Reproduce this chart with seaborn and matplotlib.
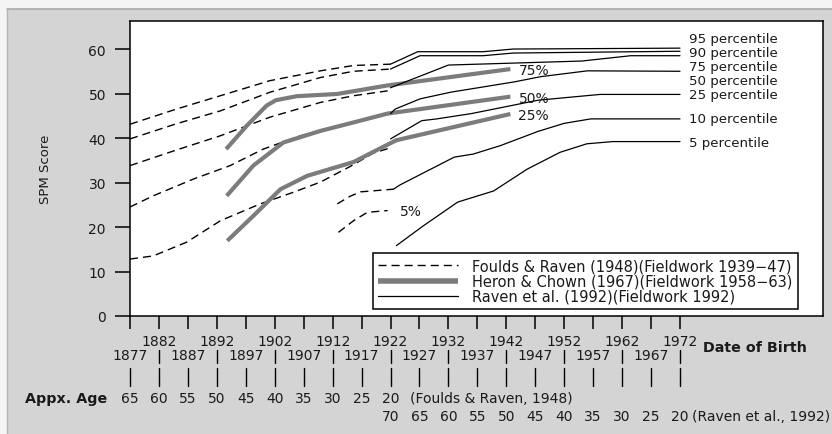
import matplotlib
matplotlib.use("Agg")
import matplotlib.pyplot as plt
from matplotlib.lines import Line2D
from matplotlib.patches import Rectangle
from matplotlib.transforms import blended_transform_factory
import pandas as pd
import seaborn as sns

# ---------------- data ----------------
# Foulds & Raven (1948), fieldwork 1939-47 (dashed)
fr_95_year = [1877, 1885, 1892.6, 1901.2, 1909.9, 1915.6, 1922]
fr_95 = [43.1, 46.5, 49.5, 52.9, 55.1, 56.3, 56.6]
fr_90_year = [1877, 1885, 1892.6, 1901.2, 1909.9, 1915.6, 1922]
fr_90 = [39.8, 43.2, 46.1, 50.3, 53.6, 55.0, 55.5]
fr_75_year = [1877, 1885, 1892.6, 1901.2, 1909.9, 1915.6, 1921.5]
fr_75 = [33.8, 37.3, 40.5, 44.7, 48.0, 49.5, 50.6]
fr_50_year = [1877, 1881, 1888, 1894.3, 1900, 1906.4, 1912, 1917, 1922]
fr_50 = [24.5, 27.0, 30.8, 33.8, 37.5, 40.5, 42.4, 44.0, 45.4]
fr_25_year = [1877, 1881, 1886.8, 1892.6, 1899.5, 1905.2, 1909.9, 1915.6, 1919, 1922]
fr_25 = [12.8, 13.5, 16.6, 21.4, 25.2, 27.8, 30.1, 34.0, 36.6, 37.8]
fr_10_year = [1912.8, 1915, 1916.8, 1922.5]
fr_10 = [25.2, 26.9, 27.9, 28.5]
fr_5_year = [1913, 1915.6, 1918, 1921.5]
fr_5 = [18.8, 21.4, 23.3, 23.7]

# Heron & Chown (1967), fieldwork 1958-63 (thick grey)
hc_75_year = [1893.6, 1897.2, 1900.6, 1902.2, 1905.8, 1912.8, 1921.4, 1942.7]
hc_75 = [37.5, 42.8, 47.3, 48.5, 49.4, 49.9, 51.8, 55.5]
hc_50_year = [1893.7, 1898.3, 1903.5, 1909.9, 1915.6, 1921.5, 1942.7]
hc_50 = [27.0, 33.8, 39.0, 41.6, 43.5, 45.5, 49.3]
hc_25_year = [1893.8, 1898.3, 1903, 1907.6, 1915.6, 1919.5, 1923, 1942.7]
hc_25 = [16.9, 22.5, 28.5, 31.5, 34.6, 37.2, 39.5, 45.4]

# Raven et al. (1992), fieldwork 1992 (thin solid)
rv_95_year = [1922, 1926.7, 1938, 1943.2, 1972]
rv_95 = [56.6, 59.4, 59.4, 60.0, 60.2]
rv_90_year = [1922, 1927.1, 1938, 1943.2, 1972]
rv_90 = [55.5, 58.5, 58.5, 59.1, 59.5]
rv_75_year = [1922, 1932, 1955, 1963.5, 1972]
rv_75 = [51.3, 56.4, 57.3, 58.5, 58.5]
rv_50_year = [1922, 1922.8, 1927.1, 1932.4, 1943.3, 1948, 1956, 1972]
rv_50 = [45.5, 46.5, 48.8, 50.3, 52.6, 53.8, 55.1, 55.0]
rv_25_year = [1922, 1927.4, 1930, 1936, 1947.5, 1958.2, 1972]
rv_25 = [39.8, 43.9, 44.3, 45.5, 48.5, 49.8, 49.8]
rv_10_year = [1922.5, 1923.7, 1933, 1936.3, 1941, 1947.5, 1952, 1956.6, 1972]
rv_10 = [28.5, 29.5, 35.7, 36.4, 38.3, 41.5, 43.3, 44.3, 44.3]
rv_5_year = [1923, 1927.7, 1933.6, 1939.8, 1945.6, 1951.3, 1955.9, 1960.4, 1972]
rv_5 = [15.8, 20.3, 25.6, 28.1, 33.0, 36.8, 38.7, 39.2, 39.2]

percentiles = ["95", "90", "75", "50", "25", "10", "5"]
heron_percentiles = ["75%", "50%", "25%"]

birth_years = [1877, 1882, 1887, 1892, 1897, 1902, 1907, 1912, 1917, 1922,
               1927, 1932, 1937, 1942, 1947, 1952, 1957, 1962, 1967, 1972]
foulds_ages = [65, 60, 55, 50, 45, 40, 35, 30, 25, 20]
raven_ages = [70, 65, 60, 55, 50, 45, 40, 35, 30, 25, 20]
score_ticks = [0, 10, 20, 30, 40, 50, 60]

legend_labels = ["Foulds & Raven (1948)(Fieldwork 1939\u221247)",
                 "Heron & Chown (1967)(Fieldwork 1958\u221263)",
                 "Raven et al. (1992)(Fieldwork 1992)"]


def long_frame(pairs, names):
    rows = []
    for (yrs, vals), name in zip(pairs, names):
        for y, v in zip(yrs, vals):
            rows.append({"year": y, "score": v, "pct": name})
    return pd.DataFrame(rows)


foulds = long_frame([(fr_95_year, fr_95), (fr_90_year, fr_90), (fr_75_year, fr_75),
                     (fr_50_year, fr_50), (fr_25_year, fr_25), (fr_10_year, fr_10),
                     (fr_5_year, fr_5)], percentiles)
heron = long_frame([(hc_75_year, hc_75), (hc_50_year, hc_50), (hc_25_year, hc_25)],
                   heron_percentiles)
raven = long_frame([(rv_95_year, rv_95), (rv_90_year, rv_90), (rv_75_year, rv_75),
                    (rv_50_year, rv_50), (rv_25_year, rv_25), (rv_10_year, rv_10),
                    (rv_5_year, rv_5)], percentiles)

# ---------------- style ----------------
sns.set_theme(style="white")
plt.rcParams["font.family"] = ["DejaVu Sans"]
TXT = "#1a1a1a"
PANEL = "#d4d4d4"
HERON_GREY = "#7c7c7c"
DASH = (0, (5.8, 3.6))

W, H = 832, 435
fig = plt.figure(figsize=(W / 100, H / 100), dpi=100)
fig.patch.set_facecolor(PANEL)
# light margin strips around the grey panel
fig.patches.append(Rectangle((0, 1 - 9.5 / H), 1, 9.5 / H, transform=fig.transFigure,
                             facecolor="#f4f4f4", edgecolor="none", zorder=0))
fig.patches.append(Rectangle((0, 0), 7.5 / W, 1, transform=fig.transFigure,
                             facecolor="#f4f4f4", edgecolor="none", zorder=0))
fig.lines.append(Line2D([7.5 / W, 1], [1 - 10 / H, 1 - 10 / H], transform=fig.transFigure,
                        color="#a9a9a9", lw=1.2))
fig.lines.append(Line2D([7.5 / W, 7.5 / W], [0, 1 - 10 / H], transform=fig.transFigure,
                        color="#b5b5b5", lw=1.0))

ax = fig.add_axes([130 / W, 1 - 317 / H, 693 / W, 295 / H])
ax.set_facecolor("white")

sns.lineplot(data=foulds, x="year", y="score", units="pct", estimator=None, sort=False,
             color="black", linewidth=1.0, linestyle=DASH, legend=False, ax=ax)
sns.lineplot(data=heron, x="year", y="score", units="pct", estimator=None, sort=False,
             color=HERON_GREY, linewidth=3.0, legend=False, ax=ax,
             solid_capstyle="butt", solid_joinstyle="round")
sns.lineplot(data=raven, x="year", y="score", units="pct", estimator=None, sort=False,
             color="black", linewidth=0.9, legend=False, ax=ax)

ax.set_xlim(1877, 1996.7)
ax.set_ylim(0, 66.3)
ax.set_xlabel("")
ax.set_ylabel("SPM Score", fontsize=9.5, color=TXT, labelpad=26)

for sp in ax.spines.values():
    sp.set_visible(True)
    sp.set_color("black")
    sp.set_linewidth(1.1)

ax.set_yticks(score_ticks)
ax.set_yticklabels([str(t) for t in score_ticks])
ax.tick_params(axis="y", direction="out", length=10.8, width=1.1, pad=6.5,
               labelsize=10, labelcolor=TXT, color="black", left=True)
ax.set_xticks(birth_years)
ax.set_xticklabels([])
ax.tick_params(axis="x", direction="out", length=9.4, width=1.1, color="black", bottom=True)

# Heron & Chown end labels
for name, yrs, vals in zip(heron_percentiles, [hc_75_year, hc_50_year, hc_25_year],
                           [hc_75, hc_50, hc_25]):
    ax.text(yrs[-1] + 1.4, vals[-1] - 0.2, name, fontsize=10, color=TXT,
            ha="left", va="center")

# Foulds & Raven 5% label
ax.text(fr_5_year[-1] + 2.2, fr_5[-1], "5%", fontsize=10, color=TXT, ha="left", va="center")

# Raven et al. percentile labels, stacked at the right-hand end
label_y = [62.3, 59.2, 56.1, 53.0, 49.8, 44.3, 39.1]
for name, ly in zip(percentiles, label_y):
    ax.text(1973.5, ly, f"{name} percentile", fontsize=9.6, color=TXT,
            ha="left", va="center")

# legend
handles = [Line2D([], [], color="black", lw=1.0, linestyle=DASH),
           Line2D([], [], color=HERON_GREY, lw=4.0, solid_capstyle="butt"),
           Line2D([], [], color="black", lw=0.9)]
leg = ax.legend(handles, legend_labels, loc="lower left", bbox_to_anchor=(0.3506, 0.0237),
                borderaxespad=0, fontsize=10.5, frameon=True, fancybox=False, framealpha=1,
                edgecolor="black", handlelength=5.5, handletextpad=0.95, labelspacing=0.02,
                borderpad=0.35)
leg.get_frame().set_linewidth(1.1)
for t in leg.get_texts():
    t.set_color(TXT)

# ---------------- birth-year and age scales below the axis ----------------
trans = blended_transform_factory(ax.transData, fig.transFigure)


def fy(px):
    return 1 - px / H


for i, yr in enumerate(birth_years):
    if i % 2 == 1:
        ax.text(yr, fy(342), str(yr), transform=trans, ha="center", va="center",
                fontsize=10, color=TXT)
        ax.plot([yr, yr], [fy(351), fy(364)], transform=trans, color="black",
                lw=1.0, clip_on=False)
    else:
        ax.text(yr, fy(356), str(yr), transform=trans, ha="center", va="center",
                fontsize=10, color=TXT)
    ax.plot([yr, yr], [fy(369), fy(387)], transform=trans, color="black",
            lw=1.0, clip_on=False)

fig.text(703 / W, fy(348), "Date of Birth", fontsize=10.3, fontweight="bold",
         color=TXT, ha="left", va="center")
fig.text(25 / W, fy(399), "Appx. Age", fontsize=10.3, fontweight="bold",
         color=TXT, ha="left", va="center")

for yr, age in zip(birth_years[:len(foulds_ages)], foulds_ages):
    ax.text(yr, fy(399), str(age), transform=trans, ha="center", va="center",
            fontsize=10, color=TXT)
fig.text(410 / W, fy(399), "(Foulds & Raven, 1948)", fontsize=10, color=TXT,
         ha="left", va="center")

for yr, age in zip(birth_years[len(foulds_ages) - 1:], raven_ages):
    ax.text(yr, fy(417), str(age), transform=trans, ha="center", va="center",
            fontsize=10, color=TXT)
fig.text(692 / W, fy(417), "(Raven et al., 1992)", fontsize=10, color=TXT,
         ha="left", va="center")

fig.savefig("out.png", dpi=100, facecolor=fig.get_facecolor())
